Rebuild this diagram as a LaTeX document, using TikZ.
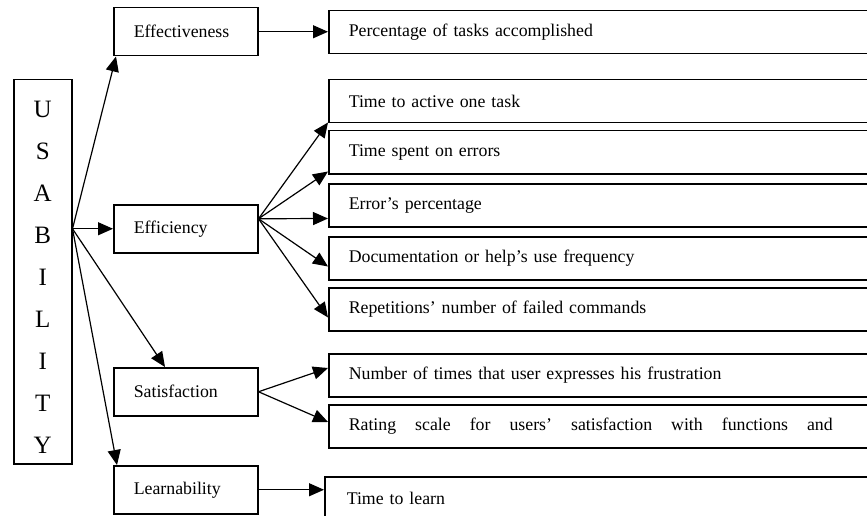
\documentclass[tikz,border=0pt]{standalone}
\usepackage{fontspec}
\setmainfont{Liberation Serif}
\usetikzlibrary{arrows.meta,positioning}

\begin{document}
\begin{tikzpicture}[x=1pt, y=-1pt,
    dim/.style={draw, rectangle, line width=1.5pt, anchor=north west, minimum width=144pt, minimum height=48pt, inner xsep=20pt, inner ysep=0pt, text width=104pt, align=left, font=\fontsize{17.8}{21}\selectfont},
    metric/.style={draw, rectangle, line width=1.5pt, anchor=north west, minimum width=570pt, minimum height=43pt, inner xsep=20pt, inner ysep=0pt, text width=530pt, align=left, font=\fontsize{17.8}{21}\selectfont},
    arr/.style={-{Triangle[length=15pt,width=13pt]}, line width=1.2pt}]
        \useasboundingbox (0,0) rectangle (867,516);
        \clip (0,0) rectangle (867,516);

        % Nodes
        \node[draw, rectangle, line width=1.5pt, anchor=north west, minimum width=58pt, minimum height=384pt, align=center, font=\fontsize{25}{42}\selectfont] (usab) at (13,79) {\rule{0pt}{27pt}U\\S\\A\\B\\I\\L\\I\\T\\Y};
        \node[dim] (effect) at (113,7) {Effectiveness};
        \node[dim] (effic) at (113,204) {Efficiency};
        \node[dim] (satis) at (113,367) {Satisfaction};
        \node[dim] (learn) at (113,465) {Learnability};

        \node[metric] (m1) at (328,10) {Percentage of tasks accomplished};
        \node[metric] (m2) at (328,79) {Time to active one task};
        \node[metric] (m3) at (328,130) {Time spent on errors};
        \node[metric] (m4) at (328,183) {Error’s percentage};
        \node[metric] (m5) at (328,236) {Documentation or help’s use frequency};
        \node[metric] (m6) at (328,287) {Repetitions’ number of failed commands};
        \node[metric] (m7) at (328,353) {Number of times that user expresses his frustration};
        \node[metric] (m8) at (328,404) {\hbox to 484pt{Rating\hfill scale\hfill for\hfill users’\hfill satisfaction\hfill with\hfill functions\hfill and}};
        \node[metric, inner xsep=22pt] (m9) at (324,476) {Time to learn};

        % Arrows
        \draw[arr] (usab.east |- effic.west) -- ([xshift=3pt]effect.south west);
        \draw[arr] (usab.east |- effic.west) -- (effic.west);
        \draw[arr] (usab.east |- effic.west) -- ([xshift=52pt]satis.north west);
        \draw[arr] (usab.east |- effic.west) -- ([xshift=4pt]learn.north west);

        \draw[arr] (effect.east) -- (effect.east -| m1.west);

        \draw[arr] ([yshift=10pt]effic.east) -- ([yshift=1pt]m2.south west);
        \draw[arr] ([yshift=10pt]effic.east) -- ([yshift=3pt]m3.south west);
        \draw[arr] ([yshift=10pt]effic.east) -- ([yshift=9pt]m4.south west);
        \draw[arr] ([yshift=10pt]effic.east) -- ([yshift=14pt]m5.south west);
        \draw[arr] ([yshift=10pt]effic.east) -- ([yshift=14pt]m6.south west);

        \draw[arr] (satis.east) -- ([yshift=-15pt]m7.north west);
        \draw[arr] (satis.east) -- ([yshift=-18pt]m8.north west);

        \draw[arr] (learn.east) -- (learn.east -| m9.west);
    \end{tikzpicture}
\end{document}
